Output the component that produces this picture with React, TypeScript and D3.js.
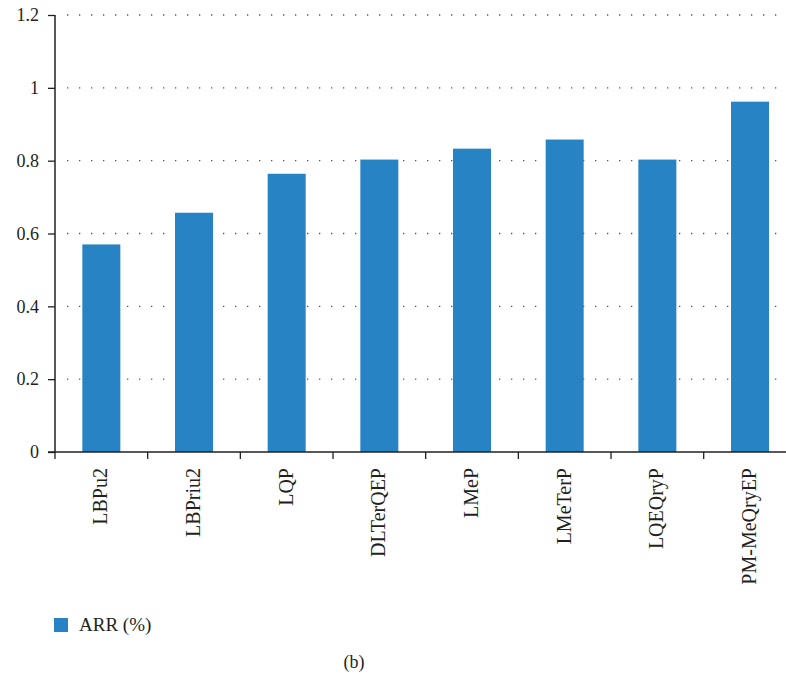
import { useEffect, useRef } from "react";
import * as d3 from "d3";

const methods = [
  "LBPu2",
  "LBPriu2",
  "LQP",
  "DLTerQEP",
  "LMeP",
  "LMeTerP",
  "LQEQryP",
  "PM-MeQryEP",
];
const arr = [0.57, 0.657, 0.764, 0.803, 0.833, 0.858, 0.803, 0.962];
const yTicks = [0, 0.2, 0.4, 0.6, 0.8, 1, 1.2];
const seriesName = "ARR (%)";
const caption = "(b)";

const barColor = "#2783c3";
const ink = "#231f20";
const font = "'Liberation Serif', 'DejaVu Serif', serif";

export default function App() {
  let ref = useRef<SVGSVGElement | null>(null);

  useEffect(() => {
    const pWidth = 786;
    const margin = { top: 15, left: 55 };
    const bandW = 92.67;

    const svg = d3.select(ref.current);
    svg.selectAll("*").remove();

    // x scale for the categories
    let x = d3
      .scaleBand()
      .domain(methods)
      .range([margin.left, margin.left + bandW * methods.length]);

    // y scale, 0..1.2
    let y = d3.scaleLinear().domain([0, 1.2]).range([452, margin.top]);

    // dotted grid lines
    svg
      .append("g")
      .selectAll("line")
      .data(yTicks.filter((t) => t > 0))
      .enter()
      .append("line")
      .attr("x1", margin.left + 12)
      .attr("x2", pWidth)
      .attr("y1", (d) => y(d))
      .attr("y2", (d) => y(d))
      .attr("stroke", "#555")
      .attr("stroke-width", 1.3)
      .attr("stroke-dasharray", "1.3,10.7");

    // bars
    const barW = 38;
    svg
      .append("g")
      .selectAll("rect")
      .data(methods)
      .enter()
      .append("rect")
      .attr("x", (d) => x(d)! + x.bandwidth() / 2 - barW / 2)
      .attr("width", barW)
      .attr("y", (d, i) => y(arr[i]))
      .attr("height", (d, i) => y(0) - y(arr[i]))
      .attr("fill", barColor);

    // y axis
    const yAxis = svg
      .append("g")
      .attr("transform", `translate(${margin.left},0)`)
      .call(
        d3
          .axisLeft(y)
          .tickValues(yTicks)
          .tickSize(7)
          .tickPadding(9)
          .tickFormat((d) => d3.format("~g")(d as number))
      );
    yAxis
      .select(".domain")
      .attr("stroke", ink)
      .attr("stroke-width", 1.5)
      .attr("d", `M0,${y(1.2)}V${y(0)}`);
    yAxis.selectAll(".tick line").attr("stroke", ink).attr("stroke-width", 1.3);
    yAxis
      .selectAll(".tick text")
      .attr("fill", ink)
      .style("font-family", font)
      .style("font-size", "18px");

    // x axis
    const xAxis = svg.append("g").attr("transform", `translate(0,${y(0)})`);
    xAxis
      .append("line")
      .attr("x1", margin.left - 7)
      .attr("x2", pWidth)
      .attr("stroke", ink)
      .attr("stroke-width", 1.5);
    xAxis
      .selectAll("line.tk")
      .data(methods)
      .enter()
      .append("line")
      .attr("class", "tk")
      .attr("x1", (d) => x(d)!)
      .attr("x2", (d) => x(d)!)
      .attr("y1", 0)
      .attr("y2", 7)
      .attr("stroke", ink)
      .attr("stroke-width", 1.3);
    xAxis
      .selectAll("text")
      .data(methods)
      .enter()
      .append("text")
      .attr(
        "transform",
        (d) => `translate(${x(d)! + x.bandwidth() / 2 + 6},16) rotate(-90)`
      )
      .attr("text-anchor", "end")
      .attr("fill", ink)
      .style("font-family", font)
      .style("font-size", "20px")
      .text((d) => d);

    // legend
    svg
      .append("rect")
      .attr("x", 54)
      .attr("y", 618)
      .attr("width", 14)
      .attr("height", 14)
      .attr("fill", barColor);
    svg
      .append("text")
      .attr("x", 79)
      .attr("y", 631)
      .attr("fill", ink)
      .style("font-family", font)
      .style("font-size", "19px")
      .text(seriesName);

    // caption
    svg
      .append("text")
      .attr("x", 354)
      .attr("y", 668)
      .attr("text-anchor", "middle")
      .attr("fill", ink)
      .style("font-family", font)
      .style("font-size", "18px")
      .text(caption);
  }, []);

  return (
    <svg
      ref={ref}
      width={786}
      height={676}
      style={{ position: "absolute", left: 0, top: 0, background: "#fff" }}
    />
  );
}
